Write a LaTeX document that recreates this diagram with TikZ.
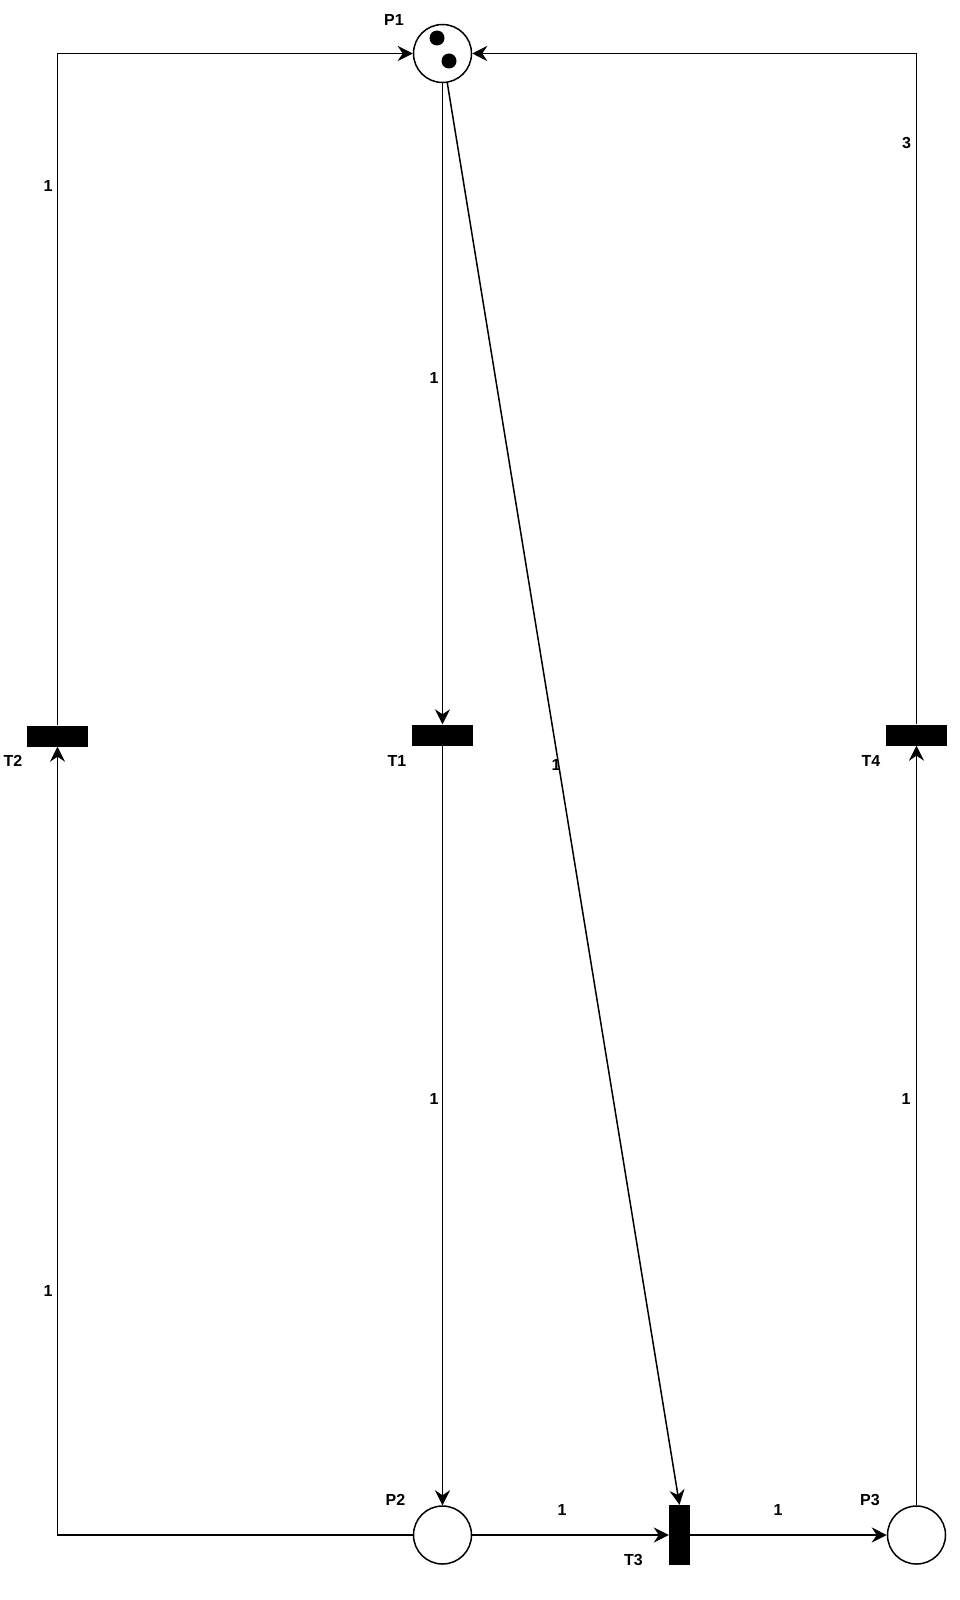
\documentclass[tikz,border=0pt]{standalone}
\usepackage{fontspec}
\setmainfont{Liberation Sans}
\usetikzlibrary{arrows.meta}
\begin{document}
\begin{tikzpicture}[x=1pt,y=-1pt,
  place/.style={circle,draw,line width=1.5pt,minimum size=58pt,inner sep=0pt},
  transH/.style={rectangle,fill=black,minimum width=61pt,minimum height=21pt,inner sep=0pt},
  transV/.style={rectangle,fill=black,minimum width=21pt,minimum height=60pt,inner sep=0pt},
  token/.style={circle,fill=black,minimum size=15pt,inner sep=0pt},
  arc/.style={line width=1.5pt,-{Stealth[length=15pt,width=15pt,inset=5pt]}},
  pname/.style={font=\fontsize{16}{16}\selectfont\bfseries,inner sep=0pt},
  weight/.style={font=\fontsize{16}{16}\selectfont\bfseries,inner sep=0pt}]
\useasboundingbox (0,0) rectangle (960,1600);

% places
\node[place] (P1) at (442.5,53.5) {};
\node[place] (P2) at (442.5,1535) {};
\node[place] (P3) at (916.5,1535) {};
\node[token] (k1) at (437,38) {};
\node[token] (k2) at (449,61) {};

% transitions
\node[transH] (T2) at (57.5,736) {};
\node[transH] (T1) at (442.5,735) {};
\node[transH] (T4) at (916.5,735) {};
\node[transV] (T3) at (679.5,1535) {};

% names
\node[pname] (nP1) at (394,19.5) {P1};
\node[pname] (nP2) at (395.5,1500) {P2};
\node[pname] (nP3) at (870,1500) {P3};
\node[pname] (nT1) at (397,760.5) {T1};
\node[pname] (nT2) at (13,760.5) {T2};
\node[pname] (nT3) at (633.5,1559.5) {T3};
\node[pname] (nT4) at (871,760.5) {T4};

% arcs
\draw[arc] (P2.west) -| (T2.south);
\draw[arc] (T2.north) |- (P1.west);
\draw[arc] (P1) -- (T1);
\draw[arc] (T1) -- (P2);
\draw[arc] (P1) -- (T3.north);
\draw[arc] (P2) -- (T3);
\draw[arc] (T3) -- (P3);
\draw[arc] (P3) -- (T4);
\draw[arc] (T4.north) |- (P1.east);

% weights
\node[weight] (w1) at (48,186) {1};
\node[weight] (w2) at (48,1291) {1};
\node[weight] (w3) at (434,378) {1};
\node[weight] (w4) at (434,1099) {1};
\node[weight] (w5) at (556,765) {1};
\node[weight] (w6) at (562,1510) {1};
\node[weight] (w7) at (778,1510) {1};
\node[weight] (w8) at (906,1099) {1};
\node[weight] (w9) at (906.5,143) {3};
\end{tikzpicture}
\end{document}
